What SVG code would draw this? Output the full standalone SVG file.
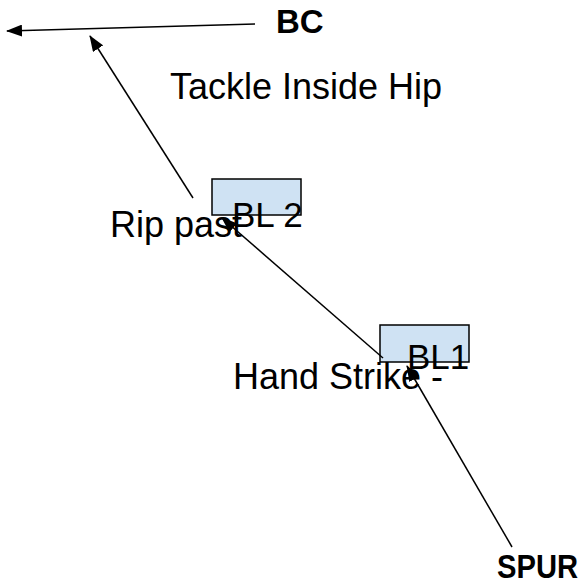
<svg xmlns="http://www.w3.org/2000/svg" width="583" height="585" viewBox="0 0 583 585">
  <style>
    .lbl { font-family: "Liberation Sans", Arial, sans-serif; font-size: 36px; fill: #000; }
    .tag { font-size: 35px; }
    .bold { font-weight: bold; font-size: 33px; }
    .box { fill: #cfe2f3; stroke: #000; stroke-width: 1.5; }
    .edge { stroke: #000; stroke-width: 1.5; fill: none; marker-end: url(#arrow); }
  </style>
  <defs>
    <marker id="arrow" markerUnits="userSpaceOnUse" markerWidth="16" markerHeight="12" refX="15" refY="6" orient="auto">
      <path d="M0,0 L16,6 L0,12 Z" fill="#000"/>
    </marker>
  </defs>

  <g id="boxes">
    <g id="bl2"><rect class="box" x="212" y="179" width="89" height="36"/></g>
    <g id="bl1"><rect class="box" x="380" y="325" width="89" height="37"/></g>
  </g>

  <g id="connectors">
    <line class="edge" x1="255" y1="24" x2="7" y2="31"/>
    <line class="edge" x1="193" y1="198" x2="90" y2="36"/>
    <line class="edge" x1="383" y1="358" x2="222" y2="218"/>
    <line class="edge" x1="512" y1="547" x2="407" y2="366"/>
  </g>

  <g id="labels">
    <g id="bc"><text class="lbl bold" x="276" y="33">BC</text></g>
    <g id="tackle"><text class="lbl" x="170" y="99">Tackle Inside Hip</text></g>
    <g id="rip"><text class="lbl" x="110" y="237">Rip past</text></g>
    <g id="bl2-text"><text class="lbl tag" x="232" y="227">BL 2</text></g>
    <g id="hand"><text class="lbl" x="233" y="389">Hand Strike  -</text></g>
    <g id="bl1-text"><text class="lbl tag" x="407" y="369">BL1</text></g>
    <g id="spur"><text class="lbl bold" x="497" y="578" textLength="81" lengthAdjust="spacingAndGlyphs">SPUR</text></g>
  </g>
</svg>
